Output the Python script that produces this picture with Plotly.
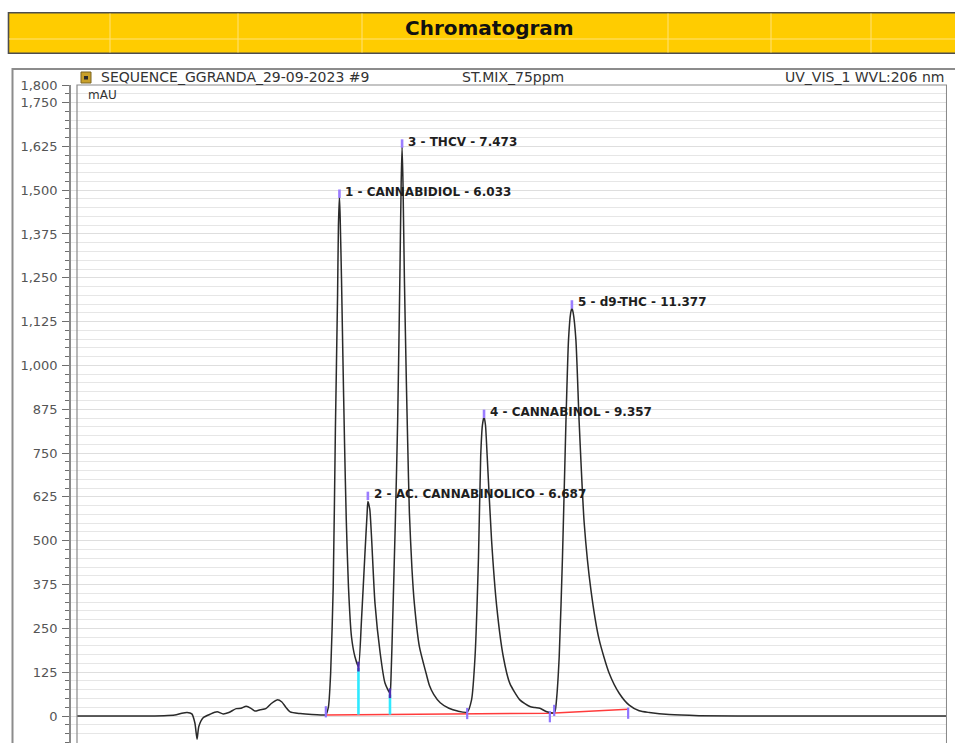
import plotly.graph_objects as go

# ---------------- data (time in min, signal in mAU) ----------------
baseline_t = [0.00, 0.99, 2.00, 2.25, 2.41, 2.53, 2.64, 2.71, 2.76, 2.80,
              2.90, 3.06, 3.22, 3.36, 3.49, 3.66, 3.77, 3.89, 4.00, 4.09,
              4.21, 4.34, 4.46, 4.60, 4.71, 4.80, 4.90, 5.13, 5.40, 5.63, 5.72]
baseline_v = [0, 0, 1, 3, 8, 10, 6, -20, -66, -30,
              -5, 5, 12, 6, 10, 21, 22, 28, 22, 14,
              18, 21, 35, 46, 40, 25, 12, 7, 4, 3, 4]

cbd_t = [5.78, 5.83, 5.89, 5.94, 5.99, 6.01, 6.033, 6.05, 6.08, 6.11, 6.15, 6.19, 6.24, 6.31, 6.39, 6.47]
cbd_v = [26, 120, 368, 816, 1200, 1400, 1482, 1420, 1250, 1040, 780, 560, 370, 226, 169, 141]

cbna_t = [6.54, 6.62, 6.67, 6.687, 6.73, 6.77, 6.85, 6.97, 7.08, 7.195]
cbna_v = [274, 465, 580, 612, 590, 512, 322, 179, 94, 65]

thcv_t = [7.216, 7.257, 7.319, 7.372, 7.422, 7.452, 7.473, 7.494, 7.526, 7.572,
          7.602, 7.641, 7.70, 7.756, 7.871, 8.025, 8.10, 8.20, 8.35, 8.55, 8.75, 8.97]
thcv_v = [100, 274, 559, 845, 1250, 1520, 1625, 1520, 1250, 950,
          780, 580, 420, 320, 198, 122, 88, 62, 38, 22, 14, 11]

cbn_t = [9.07, 9.15, 9.23, 9.28, 9.32, 9.357, 9.39, 9.43, 9.53, 9.649,
         9.80, 9.95, 10.18, 10.41, 10.53, 10.64, 10.80, 10.95]
cbn_v = [46, 169, 455, 740, 830, 854, 830, 740, 502, 312,
         169, 93, 46, 27, 24, 22, 12, 9]

thc_t = [10.99, 11.023, 11.085, 11.161, 11.239, 11.299, 11.349, 11.377, 11.407, 11.469,
         11.545, 11.660, 11.814, 12.005, 12.234, 12.464, 12.694, 12.924, 13.154, 13.614,
         14.3, 16.0, 18.0, 20.0]
thc_v = [14, 46, 169, 455, 835, 1073, 1150, 1163, 1150, 1073,
         835, 550, 360, 217, 122, 65, 31, 15, 10, 4,
         1, 0, 0, 0]

# integration baseline (red) and valley drop lines (cyan)
intbase_t = [5.72, 8.97, 10.87, 12.67]
intbase_v = [3, 6, 8, 19]
valley_t = [6.47, 7.195]
valley_v = [141, 65]
valley_base_v = [4, 4]

# integration delimiter ticks
delim_t = [5.72, 8.97, 10.87, 10.97, 12.67]
delim_v = [12, 7, -2, 16, 8]

# peak table
peak_no = [1, 2, 3, 4, 5]
peak_name = ["CANNABIDIOL", "AC. CANNABINOLICO", "THCV", "CANNABINOL", "d9-THC"]
peak_rt = [6.033, 6.687, 7.473, 9.357, 11.377]
peak_mark_v = [1490, 628, 1633, 862, 1174]

y_ticks = [0, 125, 250, 375, 500, 625, 750, 875, 1000, 1125, 1250, 1375, 1500, 1625, 1750, 1800]

header_left = "SEQUENCE_GGRANDA_29-09-2023 #9"
header_mid = "ST.MIX_75ppm"
header_right = "UV_VIS_1 WVL:206 nm"
unit_label = "mAU"
title_text = "Chromatogram"

# ---------------- geometry helpers ----------------
W, H = 955, 743
L, R, T, B = 71, 8, 85, 0
PW, PH = W - L - R, H - T - B


def px(xp):
    return (xp - L) / PW


def py(yp):
    return (H - B - yp) / PH


signal_t = baseline_t + cbd_t + cbna_t + thcv_t + cbn_t + thc_t
signal_v = baseline_v + cbd_v + cbna_v + thcv_v + cbn_v + thc_v

fig = go.Figure()

# integration baseline
fig.add_trace(go.Scatter(x=intbase_t, y=intbase_v, mode="lines",
                         line=dict(color="#ff3b3b", width=1.5), hoverinfo="skip"))
# valley drop lines
for t, v0, v1 in zip(valley_t, valley_base_v, valley_v):
    fig.add_trace(go.Scatter(x=[t, t], y=[v0, v1 - 4], mode="lines",
                             line=dict(color="#2fe9ff", width=2.6), hoverinfo="skip"))
# chromatogram trace
fig.add_trace(go.Scatter(x=signal_t, y=signal_v, mode="lines",
                         line=dict(color="#2a2a2a", width=1.5, shape="spline", smoothing=0.6)))
# delimiter ticks
fig.add_trace(go.Scatter(x=delim_t, y=delim_v, mode="markers",
                         marker=dict(symbol="line-ns", size=8,
                                     line=dict(color="#8f74ff", width=2.2)), hoverinfo="skip"))
fig.add_trace(go.Scatter(x=valley_t, y=valley_v, mode="markers",
                         marker=dict(symbol="line-ns", size=7,
                                     line=dict(color="#4b2fb0", width=2.4)), hoverinfo="skip"))
# peak apex label ticks
fig.add_trace(go.Scatter(x=peak_rt, y=peak_mark_v, mode="markers",
                         marker=dict(symbol="line-ns", size=6,
                                     line=dict(color="#9b7dff", width=2.6)), hoverinfo="skip"))

annotations = []
for n, name, rt, mv in zip(peak_no, peak_name, peak_rt, peak_mark_v):
    annotations.append(dict(x=rt, y=mv, xref="x", yref="y",
                            text=f"{n} - {name} - {rt:.3f}", showarrow=False,
                            xanchor="left", yanchor="middle", xshift=4, yshift=2,
                            font=dict(family="DejaVu Sans", size=12, color="#1e1e1e",
                                      weight="bold")))

annotations += [
    dict(x=px(489), y=py(28), xref="paper", yref="paper", text=f"<b>{title_text}</b>",
         showarrow=False, xanchor="center", yanchor="middle",
         font=dict(family="DejaVu Sans", size=20, color="#111")),
    dict(x=px(99), y=py(76.5), xref="paper", yref="paper", text=header_left,
         showarrow=False, xanchor="left", yanchor="middle",
         font=dict(family="DejaVu Sans", size=14, color="#333")),
    dict(x=px(460), y=py(76.5), xref="paper", yref="paper", text=header_mid,
         showarrow=False, xanchor="left", yanchor="middle",
         font=dict(family="DejaVu Sans", size=14, color="#333")),
    dict(x=px(946), y=py(76.5), xref="paper", yref="paper", text=header_right,
         showarrow=False, xanchor="right", yanchor="middle",
         font=dict(family="DejaVu Sans", size=14, color="#333")),
    dict(x=px(86), y=py(95), xref="paper", yref="paper", text=unit_label,
         showarrow=False, xanchor="left", yanchor="middle",
         font=dict(family="DejaVu Sans", size=12, color="#333")),
]

shapes = [
    # spreadsheet title bar
    dict(type="rect", xref="paper", yref="paper", x0=px(8.5), x1=px(965), y0=py(53.3), y1=py(12.7),
         fillcolor="#ffcc00", line=dict(color="#4d4d4d", width=1.6), layer="above"),
    dict(type="line", xref="paper", yref="paper", x0=px(9), x1=px(960), y0=py(39), y1=py(39),
         line=dict(color="#ffe27a", width=1), layer="above"),
]
for xc in [110, 238, 362, 668, 771, 871]:
    shapes.append(dict(type="line", xref="paper", yref="paper", x0=px(xc), x1=px(xc),
                       y0=py(52.5), y1=py(13.5), line=dict(color="#ffe27a", width=1), layer="above"))
shapes += [
    # outer chart frame
    dict(type="rect", xref="paper", yref="paper", x0=px(12.5), x1=px(975), y0=py(760), y1=py(69),
         line=dict(color="#8c8c8c", width=2), layer="above"),
    # inner plot frame
    dict(type="rect", xref="x", yref="paper", x0=0, x1=19.99, y0=-0.05, y1=1,
         line=dict(color="#8a8a8a", width=1.2), layer="above"),
    # sequence icon
    dict(type="rect", xref="paper", yref="paper", x0=px(81), x1=px(91), y0=py(83), y1=py(72),
         fillcolor="#c9a02a", line=dict(color="#7a6420", width=1), layer="above"),
    dict(type="rect", xref="paper", yref="paper", x0=px(84), x1=px(88), y0=py(79.5), y1=py(76),
         fillcolor="#2b2b2b", line=dict(width=0), layer="above"),
]

fig.update_layout(
    width=W, height=H,
    margin=dict(l=L, r=R, t=T, b=B, pad=0),
    paper_bgcolor="white", plot_bgcolor="white",
    showlegend=False,
    annotations=annotations,
    shapes=shapes,
    xaxis=dict(range=[-6 / 43.5, 870 / 43.5], visible=False, fixedrange=True),
    yaxis=dict(range=[-77, 1800], tickvals=y_ticks, ticktext=[f"{v:,}" for v in y_ticks],
               ticks="outside", ticklen=7, tickcolor="#6e6e6e", tickwidth=1,
               showline=True, linecolor="#8a8a8a", linewidth=1.5,
               showgrid=True, gridcolor="#dedede", gridwidth=1, zeroline=False,
               tickfont=dict(family="DejaVu Sans", size=13, color="#555"),
               ticklabelstandoff=2,
               minor=dict(dtick=25, tick0=0, ticks="outside", ticklen=4, tickcolor="#6e6e6e",
                          showgrid=True, gridcolor="#e6e6e6", gridwidth=1)),
)

fig.write_html("out.html", config={"displayModeBar": False})
